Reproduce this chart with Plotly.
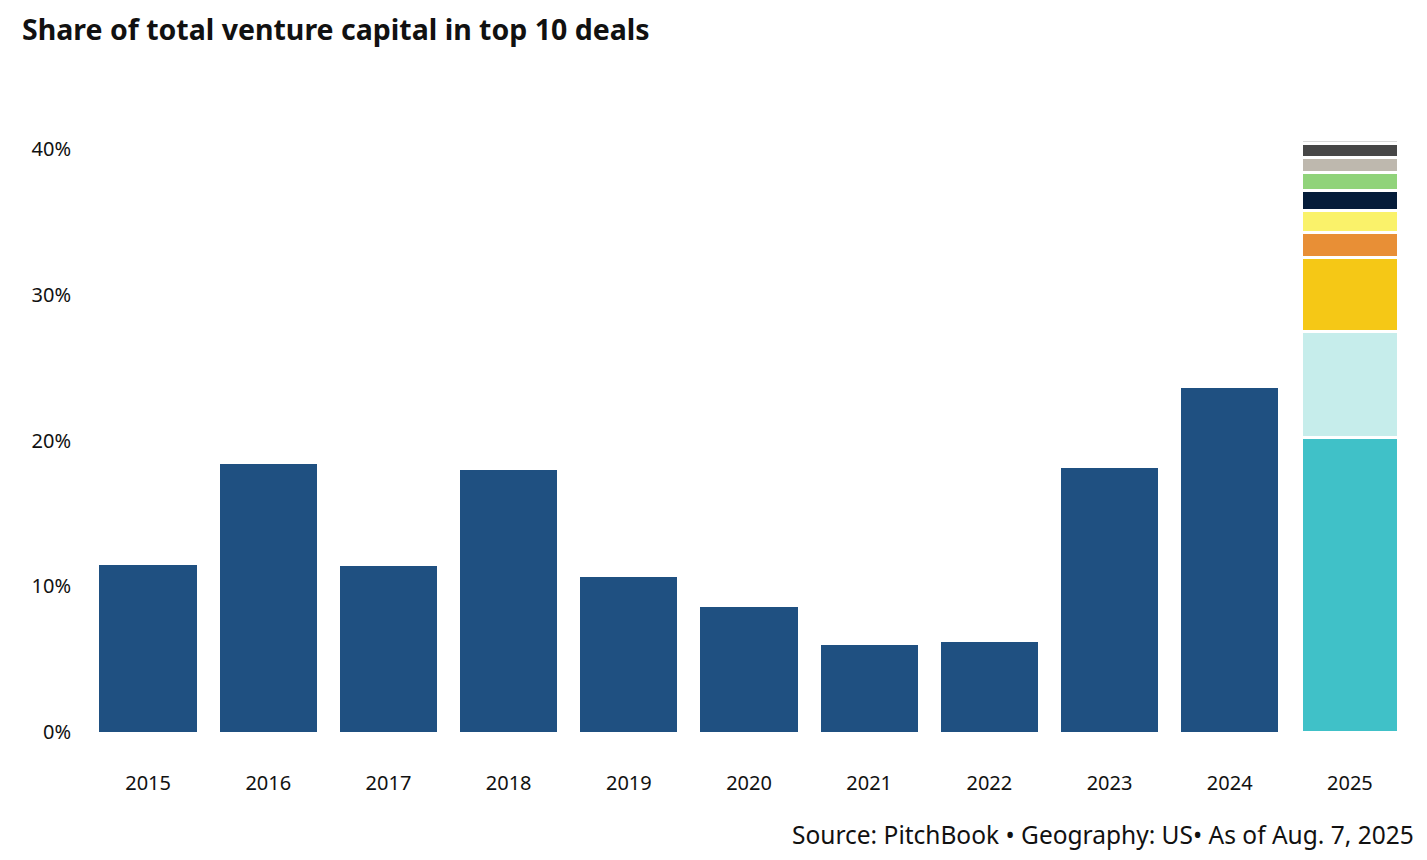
import plotly.graph_objects as go

years = ["2015", "2016", "2017", "2018", "2019", "2020", "2021", "2022", "2023", "2024"]
shares = [11.46, 18.39, 11.39, 17.98, 10.63, 8.58, 5.97, 6.17, 18.11, 23.60]

year_2025 = "2025"
deal_shares_2025 = [20.24, 7.24, 5.08, 1.75, 1.48, 1.34, 1.30, 0.99, 0.96, 0.25]
deal_colors_2025 = ["#40C1C8", "#C6EDEB", "#F5C816", "#E88F36", "#FAF26A",
                    "#051C3A", "#90D37A", "#BEB8AE", "#474747", "#D9D9D9"]

all_years = years + [year_2025]
y_ticks = [0, 10, 20, 30, 40]
y_tick_labels = ["0%", "10%", "20%", "30%", "40%"]

FONT = "Noto Sans"

# page body has an 8px default margin, so the figure is offset by 8px
OFF = 8
W, H = 1427, 860
L, R, T, B = 88 - OFF, W - 1410 + OFF, 120 - OFF, H - 732 + OFF
PW, PH = W - L - R, H - T - B

fig = go.Figure()
fig.add_trace(go.Bar(
    x=years, y=shares,
    marker=dict(color="#1F5081", line=dict(width=0)),
    showlegend=False, hoverinfo="x+y",
))
for v, c in zip(deal_shares_2025, deal_colors_2025):
    fig.add_trace(go.Bar(
        x=[year_2025], y=[v],
        marker=dict(color=c, line=dict(color="white", width=3)),
        showlegend=False,
    ))

fig.update_layout(
    barmode="stack",
    bargap=0.19,
    width=W, height=H,
    margin=dict(l=L, r=R, t=T, b=B, autoexpand=False),
    plot_bgcolor="white", paper_bgcolor="white",
    font=dict(family=FONT, color="#111111", size=20),
    title=dict(
        text="<b>Share of total venture capital in top 10 deals</b>",
        x=(22 - OFF) / W, xanchor="left", xref="container",
        y=1 - (30 - OFF) / H, yanchor="middle", yref="container",
        font=dict(family=FONT, size=28.5, color="#111111"),
    ),
    xaxis=dict(
        categoryorder="array", categoryarray=all_years,
        showline=False, showgrid=False, zeroline=False,
        ticks="", ticklabelstandoff=37, automargin=False,
        tickfont=dict(size=20),
    ),
    yaxis=dict(
        range=[0, 42],
        tickvals=y_ticks, ticktext=y_tick_labels,
        showline=False, showgrid=False, zeroline=False,
        ticks="", ticklabelstandoff=16, automargin=False,
        tickfont=dict(size=20),
    ),
    annotations=[dict(
        text="Source: PitchBook \u2022 Geography: US\u2022 As of Aug. 7, 2025",
        xref="paper", yref="paper",
        x=(1416 - 88) / PW, y=-(834 - 732) / PH,
        xanchor="right", yanchor="middle", showarrow=False,
        font=dict(family=FONT, size=24.5, color="#111111"),
    )],
)

fig.write_html("out.html")
